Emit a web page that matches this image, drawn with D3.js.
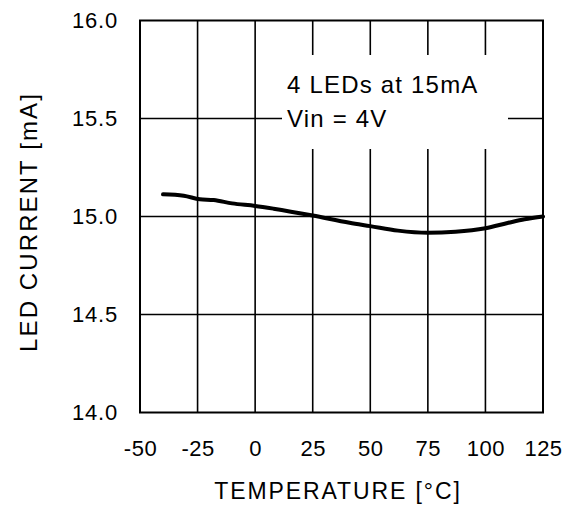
<!DOCTYPE html>
<html>
<head>
<meta charset="utf-8">
<script src="https://cdn.jsdelivr.net/npm/d3@7"></script>
<style>
  body { margin: 0; background: #fff; }
  text { font-family: Arial, "Liberation Sans", sans-serif; fill: #000; }
</style>
</head>
<body>
<svg id="chart" width="575" height="506"></svg>
<script>
// temperature [°C] and LED current [mA]
var temps   = [-40, -31, -24, -18, -10, 0, 8, 25, 41, 50, 62, 75, 87, 100, 110, 117, 125];
var current = [15.113, 15.106, 15.088, 15.084, 15.067, 15.054, 15.040, 15.005, 14.968, 14.951,
               14.928, 14.917, 14.922, 14.940, 14.968, 14.986, 15.0];
var xTicks = [-50, -25, 0, 25, 50, 75, 100, 125];
var yTicks = [14.0, 14.5, 15.0, 15.5, 16.0];
var noteLines = ["4 LEDs at 15mA", "Vin = 4V"];

var data = temps.map(function(t, i) { return [t, current[i]]; });

var svg = d3.select("#chart"),
    plotLeft = 140, plotRight = 543, plotTop = 20.5, plotBottom = 412.5;

var xScale = d3.scaleLinear().domain([-50, 125]).range([plotLeft, plotRight]),
    yScale = d3.scaleLinear().domain([14, 16]).range([plotBottom, plotTop]);

// grid
svg.append("g")
  .selectAll("line")
  .data(xTicks.slice(1, -1))
  .enter()
  .append("line")
  .attr("x1", function(d) { return xScale(d); })
  .attr("x2", function(d) { return xScale(d); })
  .attr("y1", plotTop)
  .attr("y2", plotBottom)
  .style("stroke", "#000")
  .style("stroke-width", 1.6);

svg.append("g")
  .selectAll("line")
  .data(yTicks.slice(1, -1))
  .enter()
  .append("line")
  .attr("x1", plotLeft)
  .attr("x2", plotRight)
  .attr("y1", function(d) { return yScale(d); })
  .attr("y2", function(d) { return yScale(d); })
  .style("stroke", "#000")
  .style("stroke-width", 1.6);

// note box hides the grid behind it
svg.append("rect")
  .attr("x", 282)
  .attr("y", 55)
  .attr("width", 226)
  .attr("height", 94)
  .style("fill", "#fff");

svg.append("g")
  .selectAll("text")
  .data(noteLines)
  .enter()
  .append("text")
  .attr("x", 287)
  .attr("y", function(d, i) { return 93 + i * 34; })
  .style("font-size", "24px")
  .style("letter-spacing", "1.2px")
  .text(function(d) { return d; });

// frame
svg.append("rect")
  .attr("x", plotLeft)
  .attr("y", plotTop)
  .attr("width", plotRight - plotLeft)
  .attr("height", plotBottom - plotTop)
  .style("fill", "none")
  .style("stroke", "#000")
  .style("stroke-width", 2);

// axes labels
var xAxis = svg.append("g")
  .attr("transform", "translate(0," + plotBottom + ")")
  .call(d3.axisBottom(xScale).tickValues(xTicks).tickSize(0).tickPadding(28)
        .tickFormat(function(d) { return String(d); }));
xAxis.select(".domain").remove();
xAxis.selectAll("text")
  .style("font-size", "22px")
  .style("font-family", "Arial, 'Liberation Sans', sans-serif")
  .style("letter-spacing", "0.5px");

var yAxis = svg.append("g")
  .attr("transform", "translate(" + plotLeft + ",0)")
  .call(d3.axisLeft(yScale).tickValues(yTicks).tickSize(0).tickPadding(22)
        .tickFormat(d3.format(".1f")));
yAxis.select(".domain").remove();
yAxis.selectAll("text")
  .style("font-size", "22px")
  .style("font-family", "Arial, 'Liberation Sans', sans-serif")
  .style("letter-spacing", "0.8px");

svg.append("text")
  .attr("x", 338)
  .attr("y", 499)
  .attr("text-anchor", "middle")
  .style("font-size", "23px")
  .style("letter-spacing", "1.9px")
  .text("TEMPERATURE [°C]");

svg.append("text")
  .attr("transform", "translate(37,222) rotate(-90)")
  .attr("text-anchor", "middle")
  .style("font-size", "24px")
  .style("letter-spacing", "2.1px")
  .text("LED CURRENT [mA]");

// curve
var line = d3.line()
  .x(function(d) { return xScale(d[0]); })
  .y(function(d) { return yScale(d[1]); })
  .curve(d3.curveMonotoneX);

svg.append("path")
  .datum(data)
  .attr("d", line)
  .style("fill", "none")
  .style("stroke", "#000")
  .style("stroke-width", 4)
  .style("stroke-linecap", "round");
</script>
</body>
</html>
